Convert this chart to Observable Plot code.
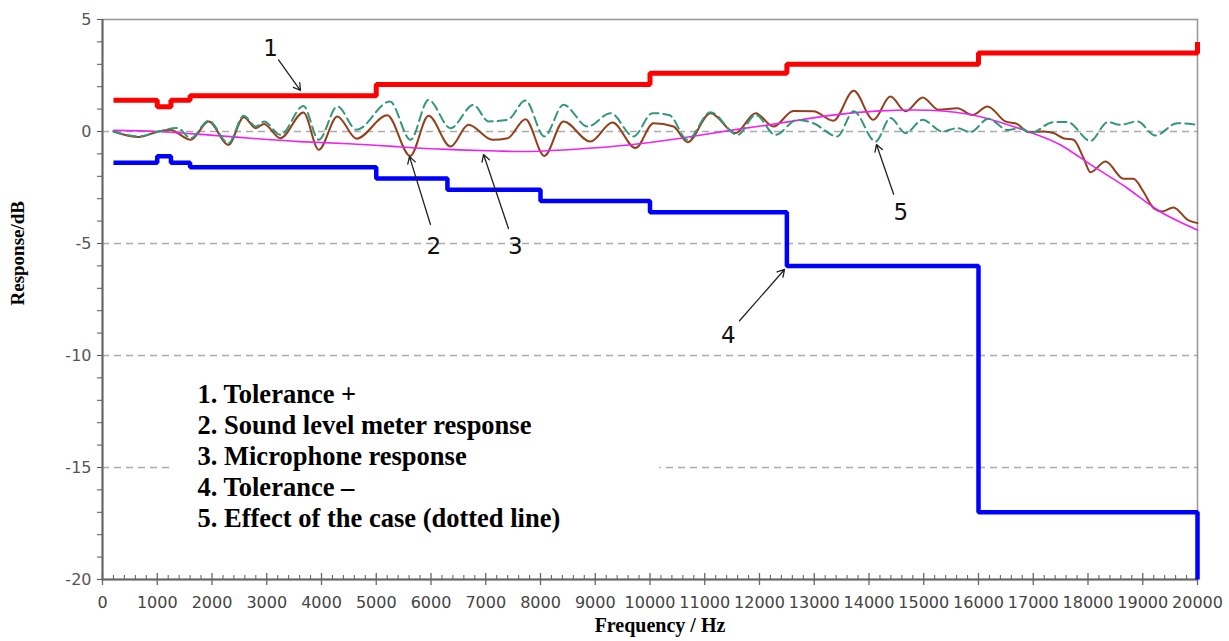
<!DOCTYPE html>
<html>
<head>
<meta charset="utf-8">
<script src="https://cdn.jsdelivr.net/npm/d3@7"></script>
<script src="https://cdn.jsdelivr.net/npm/@observablehq/plot@0.6"></script>
<style>
  body { margin: 0; background: #fff; }
</style>
</head>
<body>
<div id="chart"></div>
<script>
// ---- Tolerance limits (step functions) ----
const tolPlusFreq  = [200, 1000, 1250, 1600, 5000, 10000, 12500, 16000, 20000];
const tolPlusDb    = [1.4, 1.1, 1.4, 1.6, 2.1, 2.6, 3.0, 3.5, 4.0];
const tolMinusFreq = [200, 1000, 1250, 1600, 5000, 6300, 8000, 10000, 12500, 16000, 20000];
const tolMinusDb   = [-1.4, -1.1, -1.4, -1.6, -2.1, -2.6, -3.1, -3.6, -6.0, -17.0, -20.0];

// ---- Microphone response (3) ----
const micFreq = [200, 1000, 1800, 2700, 3600, 4500, 5400, 6300, 7200, 7800, 8700, 9600, 10500, 11500, 12400, 13300, 14200, 15100, 16000, 16900, 17500, 18100, 18700, 19300, 20000];
const micDb   = [0.05, 0.0, -0.13, -0.3, -0.45, -0.55, -0.68, -0.8, -0.87, -0.89, -0.78, -0.6, -0.32, 0.06, 0.38, 0.72, 0.92, 0.95, 0.68, 0.0, -0.6, -1.56, -2.5, -3.55, -4.4];

// ---- Sound level meter response (2) ----
const slmFreq = [200, 660, 1020, 1240, 1610, 1940, 2300, 2580, 2800, 2950, 3250, 3670, 3950, 4290, 4640, 5200, 5620, 5955, 6356, 6685, 7120, 7400, 7725, 8070, 8420, 8910, 9315, 9735, 10065, 10430, 10685, 11105, 11560, 11930, 12255, 12620, 12985, 13350, 13720, 14080, 14390, 14670, 14980, 15270, 15615, 15890, 16165, 16490, 16710, 16920, 17190, 17370, 17550, 17735, 17920, 18045, 18320, 18650, 18830, 19010, 19200, 19360, 19560, 19820, 20000];
const slmDb   = [0.0, -0.25, 0.0, 0.07, -0.37, 0.45, -0.6, 0.64, 0.15, 0.34, -0.3, 0.85, -0.82, 0.67, -0.32, 0.72, -1.09, 0.7, -0.67, 0.3, -0.37, -0.3, 0.55, -1.09, 0.45, -0.45, 0.4, -0.74, 0.37, 0.22, -0.48, 0.82, -0.07, 0.82, 0.22, 0.92, 0.9, 0.48, 1.82, 0.52, 1.56, 0.9, 1.52, 0.97, 1.04, 0.74, 1.12, 0.45, 0.33, -0.03, 0.0, -0.07, -0.3, -0.37, -1.19, -1.82, -1.34, -2.11, -2.11, -2.68, -3.42, -3.57, -3.39, -3.94, -4.09];

// ---- Effect of the case (5), dashed ----
const caseFreq = [200, 660, 1020, 1370, 1610, 1940, 2300, 2580, 2800, 2950, 3250, 3670, 3950, 4290, 4640, 5250, 5625, 5955, 6356, 6775, 7050, 7400, 7725, 8070, 8420, 8860, 9280, 9700, 10045, 10350, 10685, 11105, 11600, 11930, 12290, 12690, 12985, 13420, 13720, 14120, 14390, 14670, 14980, 15340, 15615, 15850, 16180, 16530, 16780, 16950, 17370, 17625, 18045, 18360, 18590, 18900, 19230, 19630, 20000];
const caseDb   = [0.0, -0.22, 0.0, 0.16, -0.3, 0.48, -0.52, 0.7, 0.22, 0.45, -0.15, 1.14, -0.37, 1.12, 0.08, 1.34, -0.37, 1.41, 0.15, 1.19, 0.45, 0.52, 1.38, -0.22, 1.19, 0.22, 0.82, -0.22, 0.82, 0.74, -0.37, 0.86, -0.15, 0.74, -0.15, 0.52, 0.37, -0.22, 0.9, -0.45, 0.6, -0.07, 0.52, 0.0, 0.15, -0.03, 0.57, 0.07, 0.15, -0.07, 0.42, 0.42, -0.42, 0.42, 0.3, 0.45, -0.18, 0.37, 0.3];

// ---- Axes ----
const xTickLabels = [0, 1000, 2000, 3000, 4000, 5000, 6000, 7000, 8000, 9000, 10000, 11000, 12000, 13000, 14000, 15000, 16000, 17000, 18000, 19000, 20000];
const yTickLabels = [5, 0, -5, -10, -15, -20];
const gridLevels  = [0, -5, -10, -15];

// ---- Legend and callouts ----
const legendItems = [
  "1. Tolerance +",
  "2. Sound level meter response",
  "3. Microphone response",
  "4. Tolerance \u2013",
  "5. Effect of the case (dotted line)"
];
const calloutLabels   = ["1", "2", "3", "4", "5"];
const calloutTextFreq = [3070, 6050, 7540, 11430, 14580];
const calloutTextDb   = [3.7, -5.13, -5.13, -9.1, -3.6];
const arrowFromFreq   = [3215, 5990, 7415, 11635, 14450];
const arrowFromDb     = [3.2, -4.15, -4.33, -8.45, -2.8];
const arrowToFreq     = [3616, 5607, 6960, 12457, 14137];
const arrowToDb       = [1.83, -1.12, -1.03, -6.16, -0.58];

// ---- Build tables ----
const zip = (xs, ys) => xs.map((x, i) => ({x, y: ys[i]}));
const tolPlus  = zip(tolPlusFreq, tolPlusDb);
const tolMinus = zip(tolMinusFreq, tolMinusDb);
const mic      = zip(micFreq, micDb);
const slm      = zip(slmFreq, slmDb);
const caseFx   = zip(caseFreq, caseDb);
const callouts = calloutLabels.map((t, i) => ({
  t, tx: calloutTextFreq[i], ty: calloutTextDb[i],
  x1: arrowFromFreq[i], y1: arrowFromDb[i], x2: arrowToFreq[i], y2: arrowToDb[i]
}));
const yMin = -20, yMax = 5, xMin = 0, xMax = 20000;
const yAllTicks = d3.range(yMin, yMax + 1, 1);
const xMinorTicks = d3.range(xMin, xMax + 1, 200).filter(v => !xTickLabels.includes(v));

const chart = Plot.plot({
  width: 1229,
  height: 641,
  marginTop: 19,
  marginRight: 32,
  marginBottom: 62,
  marginLeft: 102,
  x: {domain: [xMin, xMax]},
  y: {domain: [yMin, yMax]},
  style: {fontFamily: "DejaVu Sans", fontSize: "16px", background: "#fff", overflow: "visible"},
  marks: [
    // dashed grid
    Plot.ruleY(gridLevels, {stroke: "#aaa", strokeWidth: 1.6, strokeDasharray: "7,5"}),
    // white box behind legend
    Plot.rect([0], {x1: 1300, x2: 10180, y1: -10.6, y2: -18.6, fill: "#fff"}),
    // frame
    Plot.frame({stroke: "#999", strokeWidth: 1.6}),
    Plot.ruleX([xMin], {stroke: "#666", strokeWidth: 2}),
    Plot.ruleY([yMin], {stroke: "#666", strokeWidth: 2}),
    // y axis
    Plot.axisY({ticks: yAllTicks, tickSize: 5, tickPadding: 6, color: "#555",
      tickFormat: d => yTickLabels.includes(d) ? String(d) : "", label: null,
      fontFamily: "DejaVu Sans", fontSize: 16}),
    // x axis labels
    Plot.axisX({ticks: xTickLabels, tickSize: 0, tickPadding: 17, color: "#444",
      tickFormat: d => String(d), label: null, fontFamily: "DejaVu Sans", fontSize: 16}),
    // x ticks
    Plot.ruleX(xTickLabels, {y1: yMin, y2: yMin, insetTop: -6, insetBottom: -6, stroke: "#666", strokeWidth: 1.3}),
    Plot.ruleX(xMinorTicks, {y1: yMin, y2: yMin, insetTop: -4, insetBottom: 0, stroke: "#666", strokeWidth: 1.1}),
    // tolerance lines
    Plot.line(tolPlus, {x: "x", y: "y", curve: "step-after", stroke: "#ff0000", strokeWidth: 5, strokeLinejoin: "miter", strokeLinecap: "butt"}),
    Plot.line(tolMinus, {x: "x", y: "y", curve: "step-after", stroke: "#0000ff", strokeWidth: 4.5, strokeLinejoin: "miter", strokeLinecap: "butt"}),
    // responses
    Plot.line(slm, {x: "x", y: "y", curve: "monotone-x", stroke: "#93401a", strokeWidth: 2}),
    Plot.line(mic, {x: "x", y: "y", curve: "natural", stroke: "#ee22ee", strokeWidth: 1.6}),
    Plot.line(caseFx, {x: "x", y: "y", curve: "monotone-x", stroke: "#34967a", strokeWidth: 2, strokeDasharray: "9,5"}),
    // callouts
    Plot.arrow(callouts, {x1: "x1", y1: "y1", x2: "x2", y2: "y2", stroke: "#222", strokeWidth: 1.3, headLength: 9}),
    Plot.text(callouts, {x: "tx", y: "ty", text: "t", fontFamily: "DejaVu Sans", fontSize: 23, fill: "#111"}),
    // legend text
    Plot.text(legendItems, {x: 1735, y: (d, i) => -11.74 - 1.385 * i, text: d => d, textAnchor: "start",
      fontFamily: "Liberation Serif", fontWeight: "bold", fontSize: 26.5, fill: "#000"}),
    // axis titles
    Plot.text(["Frequency / Hz"], {frameAnchor: "bottom", dx: 10, dy: 52, text: d => d,
      fontFamily: "Liberation Serif", fontWeight: "bold", fontSize: 20, fill: "#000"}),
    Plot.text(["Response/dB"], {frameAnchor: "left", dx: -85, dy: 6, rotate: -90, text: d => d,
      fontFamily: "Liberation Serif", fontWeight: "bold", fontSize: 19, fill: "#000"})
  ]
});
document.getElementById("chart").appendChild(chart);
</script>
</body>
</html>
